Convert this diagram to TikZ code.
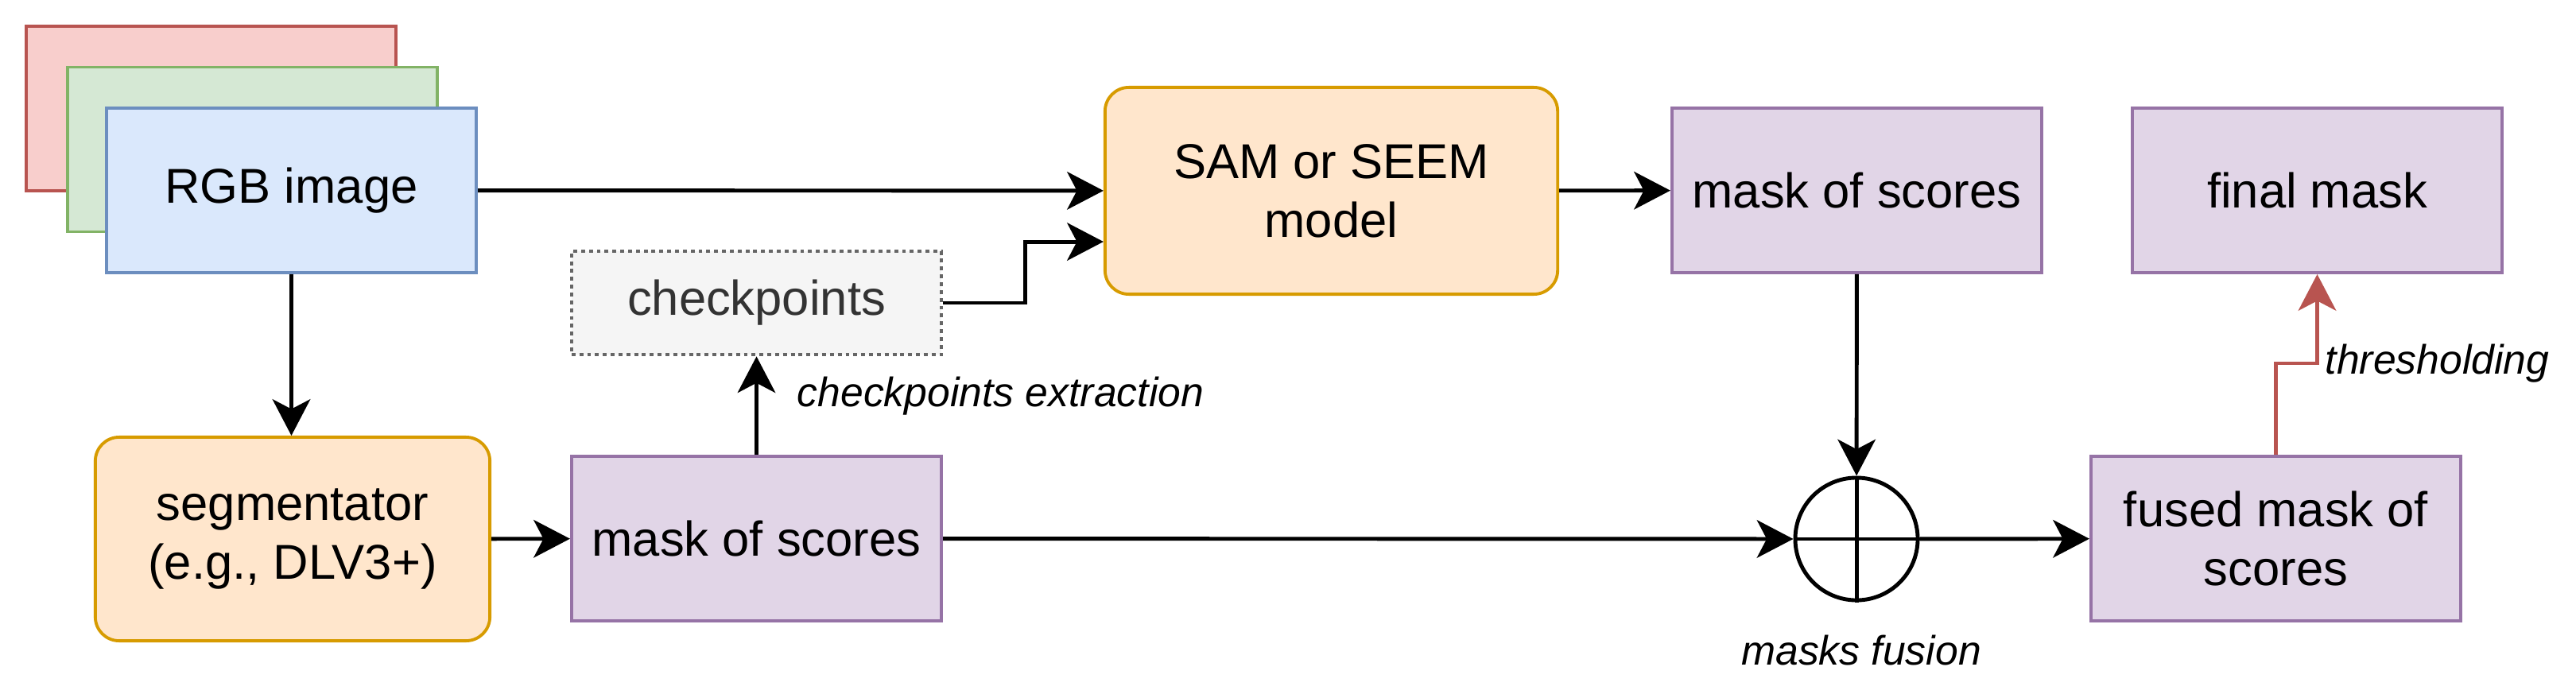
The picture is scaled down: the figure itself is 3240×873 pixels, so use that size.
\documentclass[tikz,border=0pt]{standalone}
\usepackage{fontspec}
\setmainfont{Liberation Sans}
\usetikzlibrary{arrows.meta}

\definecolor{redfill}{HTML}{F8CECC}
\definecolor{reddraw}{HTML}{B85450}
\definecolor{greenfill}{HTML}{D5E8D4}
\definecolor{greendraw}{HTML}{82B366}
\definecolor{bluefill}{HTML}{DAE8FC}
\definecolor{bluedraw}{HTML}{6C8EBF}
\definecolor{orangefill}{HTML}{FFE6CC}
\definecolor{orangedraw}{HTML}{D79B00}
\definecolor{purplefill}{HTML}{E1D5E7}
\definecolor{purpledraw}{HTML}{9673A6}
\definecolor{greyfill}{HTML}{F5F5F5}
\definecolor{greydraw}{HTML}{666666}
\definecolor{greytext}{HTML}{333333}

\tikzset{
  box/.style={draw, line width=1.1pt, minimum width=4.65cm, minimum height=2.07cm,
    align=center, inner sep=2pt, font=\fontsize{17.5}{21}\selectfont},
  imgbox/.style={box},
  maskbox/.style={box, draw=purpledraw, fill=purplefill},
  modelbox/.style={box, draw=orangedraw, fill=orangefill, rounded corners=0.3cm},
  flow/.style={-{Stealth[length=13pt,width=13.5pt,inset=3.5pt]}, line width=1.4pt},
  note/.style={font=\fontsize{14.7}{17}\selectfont\itshape, inner sep=0pt},
}

\begin{document}
\begin{tikzpicture}[x=0.01cm, y=-0.01cm]
  \useasboundingbox (0,0) rectangle (3240,873);

  % input image stack
  \node[imgbox, draw=reddraw, fill=redfill] (red) at (265.5,136.5) {};
  \node[imgbox, draw=greendraw, fill=greenfill] (green) at (317.5,188) {};
  \node[imgbox, draw=bluedraw, fill=bluefill] (rgb) at (366.5,239.5) {RGB image};

  \node[modelbox, minimum width=5.69cm, minimum height=2.6cm] (sam) at (1674.5,240) {SAM or SEEM\\model};
  \node[maskbox] (scoresA) at (2335.5,239.5) {mask of scores};
  \node[maskbox] (final) at (2914.5,239.5) {final mask};

  \node[box, draw=greydraw, fill=greyfill, text=greytext, line width=1.3pt,
    dash pattern=on 1.4pt off 1.4pt, minimum height=1.3cm] (ckpt) at (951.5,381) {checkpoints};

  \node[modelbox, minimum width=4.96cm, minimum height=2.56cm] (seg) at (368,678) {segmentator\\(e.g., DLV3+)};
  \node[maskbox] (scoresB) at (951.5,677.5) {mask of scores};
  \node[draw, circle, line width=1.4pt, minimum size=1.54cm, inner sep=0pt] (fuse) at (2335,678) {};
  \node[maskbox] (fused) at (2862.5,677.5) {fused mask of\\scores};

  \draw[line width=1.4pt] (fuse.north) -- (fuse.south);
  \draw[line width=1.4pt] (fuse.west) -- (fuse.east);

  % connectors
  \draw[flow] (rgb) -- (sam);
  \draw[flow] (rgb.south) -- (rgb.south |- seg.north);
  \draw[flow] (seg) -- (scoresB);
  \draw[flow] (scoresB) -- (ckpt);
  \draw[flow] (ckpt.east) -- ++(103,0) |- ([yshift=-0.64cm]sam.west);
  \draw[flow] (sam) -- (scoresA);
  \draw[flow] (scoresA) -- (fuse);
  \draw[flow] (scoresB) -- (fuse);
  \draw[flow] (fuse) -- (fused);
  \draw[flow, draw=reddraw] (fused.north) -- ++(0,-115) -| (final.south);

  \node[note, anchor=west] (extract) at (1002,498) {checkpoints extraction};
  \node[note] (fusion) at (2341,818) {masks fusion};
  \node[note, anchor=west] (thresh) at (2924,457) {thresholding};

\end{tikzpicture}
\end{document}
